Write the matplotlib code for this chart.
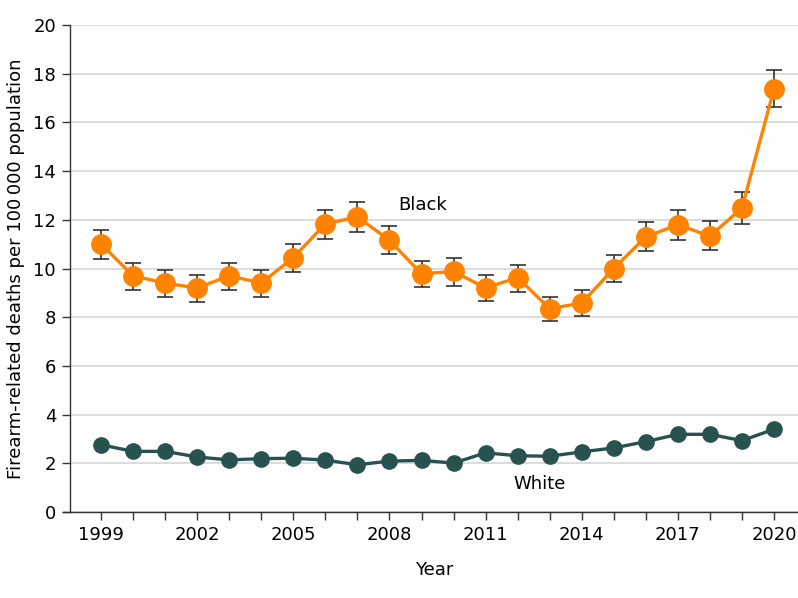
import matplotlib
matplotlib.use("Agg")
import matplotlib.pyplot as plt
import numpy as np

years = list(range(1999, 2021))

black_rate = [11.0, 9.7, 9.4, 9.2, 9.7, 9.4, 10.45, 11.83, 12.12, 11.16, 9.78,
              9.88, 9.2, 9.63, 8.35, 8.58, 10.0, 11.3, 11.8, 11.33, 12.48, 17.37]
black_lo = [10.40, 9.12, 8.83, 8.64, 9.13, 8.85, 9.86, 11.22, 11.51, 10.58, 9.22,
            9.29, 8.66, 9.05, 7.84, 8.06, 9.43, 10.71, 11.19, 10.75, 11.84, 16.65]
black_hi = [11.59, 10.22, 9.95, 9.72, 10.22, 9.95, 11.01, 12.42, 12.72, 11.76, 10.32,
            10.43, 9.72, 10.14, 8.85, 9.10, 10.57, 11.92, 12.42, 11.95, 13.14, 18.16]

white_rate = [2.76, 2.49, 2.49, 2.26, 2.14, 2.19, 2.21, 2.13, 1.94, 2.09, 2.12,
              2.01, 2.43, 2.31, 2.29, 2.47, 2.63, 2.89, 3.19, 3.19, 2.93, 3.40]
white_err = [0.10, 0.09, 0.09, 0.08, 0.08, 0.08, 0.08, 0.08, 0.08, 0.08, 0.08,
             0.08, 0.09, 0.09, 0.09, 0.09, 0.09, 0.10, 0.10, 0.10, 0.10, 0.11]

xtick_years = [1999, 2002, 2005, 2008, 2011, 2014, 2017, 2020]
yticks = [0, 2, 4, 6, 8, 10, 12, 14, 16, 18, 20]

ORANGE = "#ff8200"
TEAL = "#285250"
ERR = "#333333"

plt.rcParams["font.family"] = ["DejaVu Sans"]

fig = plt.figure(figsize=(7.98, 5.98), dpi=100)
ax = fig.add_axes([70 / 798, 86 / 598, 728 / 798, 487 / 598])

b = np.array(black_rate)
yerr_b = [b - np.array(black_lo), np.array(black_hi) - b]
ax.errorbar(years, black_rate, yerr=yerr_b, fmt="none", ecolor=ERR,
            elinewidth=1.2, capsize=6, capthick=1.2, zorder=2)
ax.plot(years, black_rate, "-o", color=ORANGE, lw=2.4, ms=14, zorder=3)

ax.errorbar(years, white_rate, yerr=white_err, fmt="none", ecolor=ERR,
            elinewidth=1.0, capsize=3, capthick=1.0, zorder=2)
ax.plot(years, white_rate, "-o", color=TEAL, lw=2.4, ms=11, zorder=3)

ax.text(2009.05, 12.6, "Black", fontsize=13, ha="center", va="center")
ax.text(2012.7, 1.15, "White", fontsize=13, ha="center", va="center")

ax.set_xlim(1998.03, 2020.75)
ax.set_ylim(0, 20)
ax.set_xticks(years)
ax.set_xticklabels([str(y) if y in xtick_years else "" for y in years])
ax.set_yticks(yticks)
ax.tick_params(labelsize=13, length=6, width=1, color="#333333", pad=4)
ax.grid(axis="y", color="#d9d9d9", lw=1.3)
ax.set_axisbelow(True)

for s in ("top", "right"):
    ax.spines[s].set_visible(False)
for s in ("left", "bottom"):
    ax.spines[s].set_color("#333333")
    ax.spines[s].set_linewidth(1)
ax.spines["bottom"].set_bounds(1997.81, 2020.75)

ax.set_xlabel("Year", fontsize=13, labelpad=12)
ax.set_ylabel("Firearm-related deaths per 100\u2009000 population", fontsize=13, labelpad=6)

fig.savefig("out.png", dpi=100)
